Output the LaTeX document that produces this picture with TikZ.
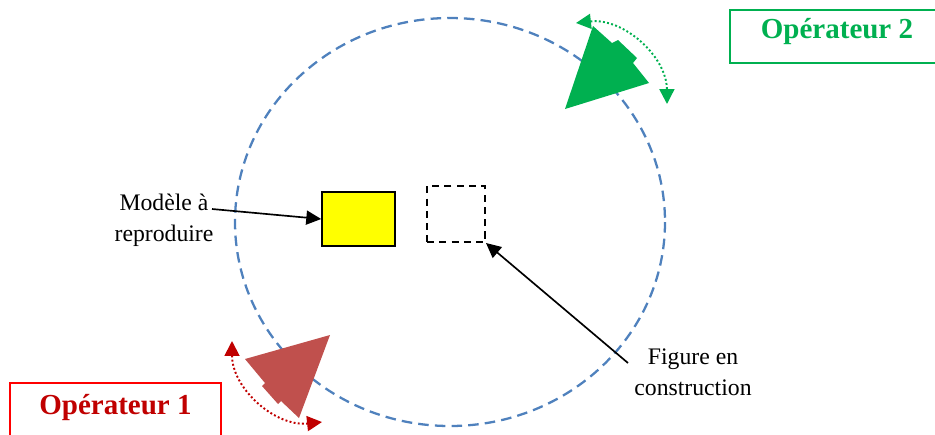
\documentclass[tikz,border=0pt]{standalone}
\usepackage{fontspec}
\setmainfont{Liberation Serif}
\usetikzlibrary{arrows.meta}
\definecolor{circblue}{RGB}{79,129,189}
\definecolor{opred}{RGB}{192,0,0}
\definecolor{opgreen}{RGB}{0,176,80}
\definecolor{shapered}{RGB}{192,80,77}
\definecolor{modelyellow}{RGB}{255,255,0}
\definecolor{boxred}{RGB}{255,0,0}

\begin{document}
\begin{tikzpicture}[
  x=0.02cm,y=-0.02cm,
  opbox/.style={draw,line width=1.1pt,minimum height=1.06cm,inner sep=0pt,
    font=\fontsize{16.5}{18}\selectfont\bfseries},
  note/.style={align=center,inner sep=0pt,font=\fontsize{13.5}{17.6}\selectfont},
  pointer/.style={-{Triangle[length=8.5pt,width=8pt]},line width=0.95pt},
  swing/.style={{Triangle[length=8.5pt,width=8.5pt]}-{Triangle[length=8.5pt,width=8.5pt]},
    line width=1.1pt,dash pattern=on 1.1pt off 1.3pt}
]
  \useasboundingbox (0,0) rectangle (935,434);

  % table around which the operators stand
  \draw[circblue,line width=1.3pt,dash pattern=on 6pt off 3.5pt]
    (450,222) ellipse [x radius=215,y radius=204];

  \node[draw,line width=0.9pt,fill=modelyellow,minimum width=1.46cm,
    minimum height=1.08cm] (model) at (358.5,219) {};
  \node[draw,line width=1.1pt,dash pattern=on 4pt off 3pt,minimum width=1.16cm,
    minimum height=1.12cm] (build) at (456,214) {};

  \node[note] (modeltext) at (164,220) {Modèle à\\reproduire};
  \node[note] (buildtext) at (693,372.5) {Figure en\\construction};
  \coordinate (modelfrom) at (212,209);
  \coordinate (buildfrom) at (628,363);
  \draw[pointer] (modelfrom) -- (model.west);
  \draw[pointer] (buildfrom) -- (build.south east);

  % operator 2
  \fill[opgreen] (593,26) -- (612,43) -- (618,40) -- (637,58) -- (633,63)
    -- (649,83) -- (565,109) -- cycle;
  \coordinate (g1) at (576,23);
  \coordinate (g2) at (667,104);
  \draw[swing,opgreen] (g1) to[bend left=48] (g2);
  \node[opbox,draw=opgreen,text=opgreen,minimum width=4.28cm,
    text height=9pt,text depth=6.2pt] (op2) at (837,36.5) {Opérateur 2};

  % operator 1
  \fill[shapered] (245,359) -- (330,335) -- (299,418) -- (281,401) -- (278,404)
    -- (262,386) -- (265,383) -- cycle;
  \coordinate (r1) at (232,341);
  \coordinate (r2) at (322,422);
  \draw[swing,opred] (r1) to[bend right=48] (r2);
  \node[opbox,draw=boxred,text=opred,minimum width=4.22cm,
    text height=10pt,text depth=3.8pt] (op1) at (115.5,409.5) {Opérateur 1};
\end{tikzpicture}
\end{document}
